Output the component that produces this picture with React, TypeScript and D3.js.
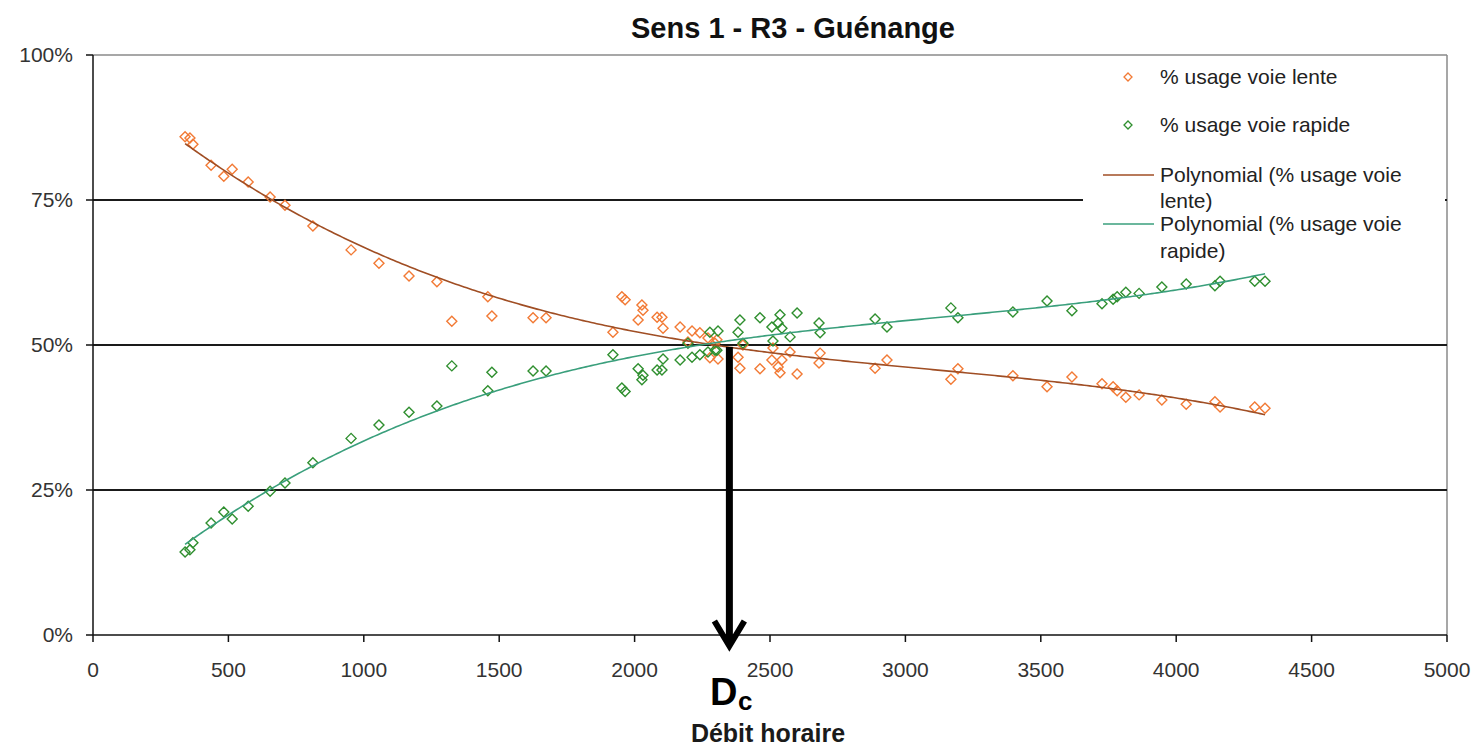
import React from 'react';
import * as d3 from 'd3';

// débit horaire (veh/h) for each measurement
const debit = [
  340, 358, 369, 436, 483, 514, 573, 654, 709, 812, 953, 1056, 1167, 1270, 1325, 1458, 1473, 1625, 1673,
  1920, 1953, 1965, 2013, 2027, 2031, 2083, 2101, 2105, 2168, 2197, 2212, 2241, 2271, 2278, 2297, 2304, 2308,
  2382, 2389, 2400, 2463, 2507, 2511, 2530, 2537, 2544, 2574, 2600, 2681, 2685, 2888, 2932,
  3168, 3194, 3397, 3523, 3615, 3726, 3767, 3782, 3814, 3863, 3947, 4037, 4143, 4162, 4290, 4328,
];
// % usage voie lente
const lente = [
  85.9, 85.7, 84.6, 81.0, 79.1, 80.3, 78.1, 75.5, 74.1, 70.5, 66.4, 64.1, 61.9, 60.9, 54.1, 58.3, 55.0, 54.7, 54.7,
  52.2, 58.3, 57.8, 54.3, 56.9, 56.0, 54.8, 54.8, 52.9, 53.1, 50.5, 52.4, 52.1, 51.2, 47.8, 50.3, 50.9, 47.6,
  47.9, 46.0, 50.0, 45.9, 47.4, 49.5, 46.2, 45.2, 47.4, 48.8, 45.0, 46.9, 48.6, 46.0, 47.4,
  44.1, 45.9, 44.7, 42.8, 44.5, 43.3, 42.8, 42.1, 41.0, 41.4, 40.5, 39.8, 40.2, 39.3, 39.3, 39.1,
];
// % usage voie rapide
const rapide = [
  14.3, 14.7, 15.9, 19.3, 21.2, 20.0, 22.2, 24.8, 26.2, 29.7, 33.9, 36.2, 38.4, 39.5, 46.4, 42.1, 45.3, 45.5, 45.5,
  48.3, 42.6, 42.0, 45.9, 44.0, 44.8, 45.7, 45.7, 47.6, 47.4, 50.3, 47.9, 48.3, 48.8, 52.2, 49.1, 49.1, 52.4,
  52.2, 54.3, 50.3, 54.7, 53.1, 50.7, 53.8, 55.2, 52.9, 51.4, 55.5, 53.8, 52.1, 54.5, 53.1,
  56.4, 54.7, 55.7, 57.6, 55.9, 57.1, 57.9, 58.3, 59.1, 58.9, 60.0, 60.5, 60.2, 61.0, 61.0, 61.0,
];

const xTicks = [0, 500, 1000, 1500, 2000, 2500, 3000, 3500, 4000, 4500, 5000];
const yTicks = [0, 25, 50, 75, 100];
const debitCritique = 2350;

const FONT = '"Liberation Sans", Arial, sans-serif';
const ORANGE = '#f27a35';
const GREEN = '#2f8f2f';
const TREND_LENTE = '#a04e24';
const TREND_RAPIDE = '#3a9f7c';

// least squares polynomial (x in thousands to keep it well conditioned)
function polyfit(xs: number[], ys: number[], order: number) {
  const n = order + 1;
  const A = Array.from({ length: n }, () => new Array(n + 1).fill(0));
  xs.forEach((x, k) => {
    const u = x / 1000;
    for (let i = 0; i < n; i++) {
      for (let j = 0; j < n; j++) A[i][j] += Math.pow(u, i + j);
      A[i][n] += ys[k] * Math.pow(u, i);
    }
  });
  for (let c = 0; c < n; c++) {
    let p = c;
    for (let r = c + 1; r < n; r++) if (Math.abs(A[r][c]) > Math.abs(A[p][c])) p = r;
    [A[c], A[p]] = [A[p], A[c]];
    for (let r = 0; r < n; r++) {
      if (r === c) continue;
      const f = A[r][c] / A[c][c];
      for (let k = c; k <= n; k++) A[r][k] -= f * A[c][k];
    }
  }
  const coef = A.map((row, i) => row[n] / row[i]);
  return (x: number) => coef.reduce((s, a, i) => s + a * Math.pow(x / 1000, i), 0);
}

const App = () => {
  const width = 1476;
  const height = 747;
  const left = 93;
  const right = 1447;
  const top = 55;
  const bottom = 635;

  const x = d3.scaleLinear().domain([0, 5000]).range([left, right]);
  const y = d3.scaleLinear().domain([0, 100]).range([bottom, top]);

  const fitLente = polyfit(debit, lente, 3);
  const fitRapide = polyfit(debit, rapide, 3);
  const [xmin, xmax] = d3.extent(debit) as [number, number];
  const samples = d3.range(xmin, xmax, 10).concat([xmax]);
  const line = (f: (v: number) => number) =>
    d3.line<number>().x(v => x(v)).y(v => y(f(v)))(samples) || '';

  const diamond = (cx: number, cy: number, r: number) =>
    `M${cx},${cy - r}L${cx + r},${cy}L${cx},${cy + r}L${cx - r},${cy}Z`;

  const ax = x(debitCritique);

  // legend box
  const lg = { x0: 1083, x1: 1445, y0: 57, y1: 264 };

  return (
    <svg width={width} height={height} style={{ position: 'absolute', left: 0, top: 0, background: '#fff' }}>
      <text x={793} y={38} textAnchor="middle" fontFamily={FONT} fontWeight="bold" fontSize={29} fill="#111">
        Sens 1 - R3 - Guénange
      </text>

      {/* plot border */}
      <line x1={left} x2={right} y1={top} y2={top} stroke="#8a8a8a" strokeWidth={1.5} />
      <line x1={right} x2={right} y1={top} y2={bottom} stroke="#8a8a8a" strokeWidth={1.5} />

      {/* gridlines */}
      {yTicks.filter(t => t > 0 && t < 100).map(t => (
        <line key={t} x1={left} x2={right} y1={y(t)} y2={y(t)} stroke="#1a1a1a" strokeWidth={2} />
      ))}

      {/* axes */}
      <line x1={left} x2={left} y1={top} y2={bottom} stroke="#111" strokeWidth={1.5} />
      <line x1={left} x2={right} y1={bottom} y2={bottom} stroke="#111" strokeWidth={1.5} />
      {yTicks.map(t => (
        <g key={t}>
          <line x1={left - 7} x2={left} y1={y(t)} y2={y(t)} stroke="#111" strokeWidth={1.5} />
          <text x={73} y={y(t)} dy="0.35em" textAnchor="end" fontFamily={FONT} fontSize={21} fill="#333">
            {t}%
          </text>
        </g>
      ))}
      {xTicks.map(t => (
        <g key={t}>
          <line x1={x(t)} x2={x(t)} y1={bottom} y2={bottom + 7} stroke="#111" strokeWidth={1.5} />
          <text x={x(t)} y={677} textAnchor="middle" fontFamily={FONT} fontSize={21} fill="#333">
            {t}
          </text>
        </g>
      ))}

      {/* markers */}
      {debit.map((d, i) => (
        <path key={'l' + i} d={diamond(x(d), y(lente[i]), 5)} fill="none" stroke={ORANGE} strokeWidth={1.4} />
      ))}
      {debit.map((d, i) => (
        <path key={'r' + i} d={diamond(x(d), y(rapide[i]), 5)} fill="none" stroke={GREEN} strokeWidth={1.4} />
      ))}

      {/* trend lines */}
      <path d={line(fitLente)} fill="none" stroke={TREND_LENTE} strokeWidth={1.6} />
      <path d={line(fitRapide)} fill="none" stroke={TREND_RAPIDE} strokeWidth={1.6} />

      {/* legend */}
      <rect x={lg.x0} y={lg.y0} width={lg.x1 - lg.x0} height={lg.y1 - lg.y0} fill="#fff" />
      <g fontFamily={FONT} fontSize={21} fill="#222">
        <path d={diamond(1128, 77, 4)} fill="none" stroke={ORANGE} strokeWidth={1.3} />
        <text x={1160} y={77} dy="0.35em">% usage voie lente</text>
        <path d={diamond(1128, 125, 4)} fill="none" stroke={GREEN} strokeWidth={1.3} />
        <text x={1160} y={125} dy="0.35em">% usage voie rapide</text>
        <line x1={1103} x2={1154} y1={175} y2={175} stroke={TREND_LENTE} strokeWidth={1.6} />
        <text x={1160} y={175} dy="0.35em">Polynomial (% usage voie</text>
        <text x={1160} y={201} dy="0.35em">lente)</text>
        <line x1={1103} x2={1154} y1={224} y2={224} stroke={TREND_RAPIDE} strokeWidth={1.6} />
        <text x={1160} y={224} dy="0.35em">Polynomial (% usage voie</text>
        <text x={1160} y={251} dy="0.35em">rapide)</text>
      </g>

      {/* critical flow arrow */}
      <line x1={ax} x2={ax} y1={y(50) + 2} y2={645} stroke="#000" strokeWidth={7} />
      <polyline
        points={`${ax - 15},${621} ${ax},${646} ${ax + 15},${621}`}
        fill="none"
        stroke="#000"
        strokeWidth={6}
        strokeLinejoin="miter"
      />
      <text x={710} y={705} fontFamily={FONT} fontWeight="bold" fontSize={38} fill="#000">D</text>
      <text x={738} y={710} fontFamily={FONT} fontWeight="bold" fontSize={26} fill="#000">c</text>
      <text x={768} y={742} textAnchor="middle" fontFamily={FONT} fontWeight="bold" fontSize={25} fill="#1a1a1a">
        Débit horaire
      </text>
    </svg>
  );
};

export default App;
